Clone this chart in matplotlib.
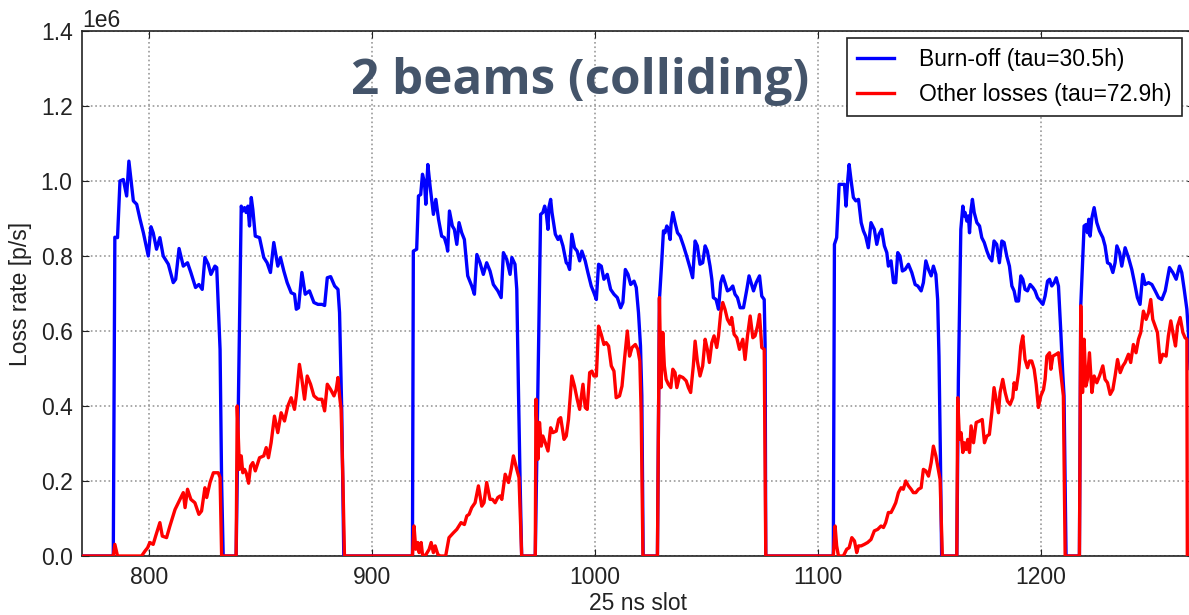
import matplotlib
matplotlib.use("Agg")
import matplotlib.pyplot as plt
import numpy as np

plt.rcParams["font.family"] = ["Liberation Sans", "DejaVu Sans"]

# loss rates, (25 ns slot, rate in 1e6 p/s), one list per bunch train
BURNOFF_T1 = [(770.0, 0), (784.0, 0), (784.7, 0.85), (785.9, 0.849), (787.0, 1.0), (788.5, 1.004),
              (790.0, 0.96), (791.0, 1.053), (793.0, 0.947), (794.5, 0.938), (796.0, 0.898),
              (797.5, 0.862), (799.7, 0.8), (800.9, 0.878), (801.9, 0.862), (803.4, 0.818),
              (804.9, 0.849), (806.4, 0.8), (808.7, 0.778), (810.9, 0.729), (812.0, 0.738),
              (813.5, 0.82), (815.4, 0.773), (817.3, 0.782), (818.8, 0.756), (820.9, 0.716),
              (822.4, 0.724), (823.9, 0.711), (825.1, 0.796), (826.6, 0.778), (827.8, 0.751),
              (829.6, 0.773), (830.4, 0.769), (831.9, 0.551), (832.6, 0.196), (833.3, 0)]
BURNOFF_T2 = [(839.1, 0), (841.4, 0.933), (842.1, 0.92), (842.9, 0.929), (843.6, 0.916), (844.4, 0.933),
              (845.1, 0.88), (845.9, 0.956), (846.6, 0.924), (847.7, 0.853), (849.6, 0.849),
              (851.5, 0.796), (853.0, 0.782), (854.5, 0.756), (856.0, 0.836), (857.8, 0.773),
              (859.0, 0.796), (860.5, 0.76), (862.0, 0.729), (863.8, 0.702), (865.3, 0.698),
              (866.1, 0.658), (867.1, 0.662), (868.6, 0.756), (870.1, 0.698), (872.0, 0.707),
              (874.0, 0.676), (875.8, 0.671), (877.6, 0.671), (878.8, 0.668), (880.0, 0.742),
              (881.5, 0.745), (883.3, 0.72), (884.8, 0.711), (885.5, 0.649), (886.5, 0.382), (887.4, 0)]
BURNOFF_T3 = [(918.2, 0), (918.6, 0.813), (920.1, 0.818), (920.9, 0.96), (921.9, 0.964), (922.7, 1.018),
              (923.6, 0.996), (924.2, 0.938), (925.1, 1.044), (926.1, 0.987), (927.6, 0.911),
              (928.7, 0.951), (929.9, 0.898), (931.3, 0.853), (932.5, 0.849), (933.6, 0.827),
              (934.0, 0.813), (934.8, 0.92), (936.1, 0.88), (937.0, 0.871), (938.1, 0.831),
              (939.1, 0.889), (940.3, 0.862), (941.5, 0.844), (943.0, 0.747), (944.8, 0.72),
              (946.0, 0.698), (947.1, 0.804), (948.5, 0.782), (950.0, 0.751), (951.5, 0.782),
              (953.0, 0.76), (954.5, 0.724), (956.5, 0.707), (958.0, 0.689), (959.0, 0.809),
              (960.5, 0.791), (962.0, 0.751), (962.8, 0.796), (964.2, 0.778), (965.0, 0.711),
              (965.7, 0.462), (966.5, 0.196), (967.2, 0)]
BURNOFF_T4 = [(973.3, 0), (975.7, 0.911), (976.7, 0.916), (977.5, 0.933), (978.2, 0.916), (979.0, 0.871),
              (979.4, 0.929), (980.2, 0.951), (980.8, 0.916), (982.3, 0.858), (983.5, 0.844),
              (984.4, 0.853), (985.7, 0.827), (987.2, 0.782), (987.9, 0.778), (988.7, 0.764),
              (989.7, 0.858), (990.9, 0.822), (992.1, 0.813), (993.2, 0.787), (994.2, 0.813),
              (995.7, 0.787), (996.9, 0.756), (998.4, 0.72), (999.6, 0.702), (1000.7, 0.684),
              (1001.7, 0.778), (1002.9, 0.773), (1004.1, 0.738), (1005.6, 0.751), (1007.1, 0.711),
              (1008.6, 0.698), (1010.1, 0.689), (1011.6, 0.662), (1012.6, 0.676), (1013.7, 0.764),
              (1014.9, 0.751), (1016.1, 0.724), (1017.6, 0.733), (1018.6, 0.716), (1019.6, 0.649),
              (1020.5, 0.56), (1021.1, 0.427), (1021.7, 0)]
BURNOFF_T5 = [(1028.1, 0), (1029.0, 0.684), (1030.0, 0.782), (1030.8, 0.867), (1031.5, 0.862),
              (1032.3, 0.88), (1033.0, 0.871), (1033.8, 0.844), (1034.2, 0.884), (1035.0, 0.916),
              (1036.0, 0.889), (1037.1, 0.862), (1038.3, 0.853), (1039.8, 0.827), (1041.2, 0.8),
              (1042.7, 0.769), (1043.9, 0.742), (1045.0, 0.84), (1046.0, 0.827), (1047.2, 0.778),
              (1048.4, 0.782), (1049.5, 0.827), (1050.5, 0.813), (1051.7, 0.773), (1052.5, 0.738),
              (1053.2, 0.689), (1054.4, 0.684), (1055.5, 0.658), (1056.5, 0.729), (1057.4, 0.747),
              (1058.4, 0.729), (1059.5, 0.707), (1060.7, 0.711), (1061.9, 0.72), (1062.9, 0.698),
              (1064.0, 0.689), (1065.2, 0.662), (1066.7, 0.662), (1068.2, 0.711), (1069.2, 0.747),
              (1070.1, 0.729), (1071.2, 0.707), (1072.4, 0.729), (1073.9, 0.747), (1074.9, 0.693),
              (1076.0, 0.684), (1076.4, 0.564), (1076.7, 0)]
BURNOFF_T6 = [(1107.0, 0), (1107.5, 0.831), (1108.5, 0.849), (1109.6, 0.991), (1110.8, 0.991),
              (1112.0, 0.991), (1112.7, 0.933), (1113.5, 1.004), (1114.1, 1.044), (1115.0, 1.0),
              (1116.0, 0.956), (1117.1, 0.947), (1118.3, 0.951), (1119.5, 0.889), (1120.5, 0.867),
              (1121.5, 0.853), (1122.7, 0.822), (1123.9, 0.889), (1125.4, 0.871), (1126.5, 0.831),
              (1127.5, 0.858), (1128.7, 0.871), (1129.9, 0.827), (1131.0, 0.809), (1131.7, 0.773),
              (1132.9, 0.787), (1134.0, 0.729), (1135.0, 0.729), (1135.9, 0.809), (1136.9, 0.8),
              (1138.0, 0.76), (1139.2, 0.764), (1140.7, 0.778), (1142.2, 0.756), (1143.7, 0.724),
              (1144.9, 0.72), (1146.4, 0.707), (1147.4, 0.729), (1148.5, 0.787), (1149.7, 0.764),
              (1150.9, 0.747), (1151.9, 0.773), (1153.0, 0.751), (1153.8, 0.684), (1154.4, 0.533),
              (1155.0, 0.284), (1155.6, 0)]
BURNOFF_T7 = [(1162.4, 0), (1163.1, 0.471), (1164.2, 0.871), (1165.1, 0.933), (1165.7, 0.907),
              (1166.1, 0.916), (1166.9, 0.893), (1167.6, 0.907), (1168.1, 0.862), (1168.7, 0.92),
              (1169.4, 0.951), (1170.2, 0.916), (1171.4, 0.889), (1172.6, 0.88), (1173.6, 0.849),
              (1174.7, 0.836), (1175.9, 0.813), (1177.0, 0.796), (1178.1, 0.787), (1179.1, 0.84),
              (1180.3, 0.831), (1181.5, 0.782), (1182.6, 0.84), (1183.6, 0.836), (1184.8, 0.8),
              (1186.0, 0.773), (1187.1, 0.72), (1188.1, 0.707), (1189.0, 0.68), (1190.1, 0.68),
              (1191.1, 0.747), (1192.0, 0.738), (1193.0, 0.711), (1194.1, 0.707), (1195.3, 0.724),
              (1196.5, 0.716), (1197.5, 0.707), (1198.6, 0.689), (1199.8, 0.68), (1201.0, 0.671),
              (1202.0, 0.693), (1203.1, 0.733), (1204.0, 0.738), (1205.0, 0.72), (1206.1, 0.729),
              (1207.0, 0.742), (1208.0, 0.72), (1209.0, 0.604), (1209.9, 0.489), (1210.5, 0.427),
              (1211.4, 0)]
BURNOFF_T8 = [(1217.4, 0), (1218.0, 0.667), (1219.5, 0.88), (1220.4, 0.884), (1221.0, 0.862),
              (1221.6, 0.898), (1222.2, 0.853), (1223.0, 0.902), (1224.0, 0.929), (1225.2, 0.889),
              (1226.4, 0.867), (1227.9, 0.849), (1228.9, 0.827), (1230.0, 0.782), (1231.2, 0.778),
              (1232.4, 0.756), (1233.4, 0.782), (1234.2, 0.827), (1235.4, 0.809), (1236.4, 0.773),
              (1237.9, 0.822), (1239.4, 0.796), (1240.9, 0.764), (1242.4, 0.72), (1243.4, 0.689),
              (1244.6, 0.671), (1245.8, 0.751), (1246.9, 0.724), (1248.4, 0.729), (1249.9, 0.724),
              (1251.4, 0.707), (1252.9, 0.689), (1254.4, 0.684), (1255.9, 0.707), (1257.8, 0.769),
              (1259.3, 0.756), (1260.8, 0.738), (1262.3, 0.773), (1263.3, 0.756), (1264.4, 0.711),
              (1265.6, 0.658), (1266.3, 0.596), (1267.0, 0.5)]

OTHER_T1 = [(770.0, 0), (784.0, 0), (784.7, 0.031), (785.9, 0), (796.7, 0), (798.2, 0.013),
            (799.4, 0.022), (800.4, 0.036), (801.9, 0.031), (803.0, 0.053), (804.9, 0.089),
            (806.0, 0.053), (807.9, 0.049), (809.4, 0.08), (811.7, 0.124), (813.9, 0.151),
            (815.4, 0.169), (816.2, 0.129), (817.3, 0.178), (818.8, 0.151), (820.6, 0.142),
            (822.4, 0.111), (823.6, 0.12), (825.1, 0.182), (825.9, 0.156), (827.4, 0.196),
            (828.9, 0.222), (831.1, 0.222), (831.9, 0.209), (832.6, 0)]
OTHER_T2 = [(839.1, 0), (839.6, 0.4), (840.6, 0.231), (841.4, 0.267), (842.1, 0.222), (842.9, 0.231),
            (843.6, 0.222), (844.7, 0.194), (845.6, 0.24), (846.6, 0.249), (847.7, 0.227),
            (849.6, 0.262), (851.5, 0.267), (852.6, 0.289), (853.6, 0.262), (854.8, 0.302),
            (856.3, 0.373), (857.8, 0.329), (859.3, 0.382), (860.8, 0.36), (862.3, 0.4),
            (863.8, 0.422), (865.3, 0.391), (866.1, 0.427), (867.5, 0.511), (868.6, 0.471),
            (869.8, 0.418), (871.0, 0.48), (872.5, 0.458), (874.0, 0.427), (875.8, 0.418),
            (877.6, 0.418), (878.8, 0.387), (880.0, 0.458), (881.5, 0.444), (883.0, 0.427),
            (884.0, 0.444), (884.8, 0.476), (885.5, 0.427), (886.2, 0.391), (887.0, 0.204), (887.7, 0)]
OTHER_T3 = [(918.2, 0), (918.9, 0.08), (919.7, 0.018), (920.6, 0.036), (921.2, 0.009), (922.1, 0.036),
            (922.7, 0.004), (923.9, 0), (925.7, 0.018), (926.6, 0.036), (927.6, 0.009), (928.4, 0.027),
            (929.6, 0.004), (930.6, 0), (933.1, 0), (934.6, 0.049), (936.6, 0.062), (938.1, 0.071),
            (940.0, 0.089), (941.5, 0.084), (942.6, 0.107), (943.6, 0.111), (944.8, 0.129),
            (946.3, 0.142), (947.8, 0.187), (949.3, 0.133), (950.3, 0.142), (951.5, 0.196),
            (953.0, 0.151), (954.1, 0.151), (955.3, 0.142), (956.5, 0.156), (957.5, 0.16),
            (958.3, 0.151), (959.8, 0.218), (961.3, 0.196), (962.5, 0.231), (963.5, 0.267),
            (965.0, 0.231), (966.0, 0.209), (967.2, 0)]
OTHER_T4 = [(973.3, 0), (973.6, 0.418), (974.5, 0.258), (975.2, 0.356), (976.0, 0.293), (976.7, 0.32),
            (977.8, 0.302), (979.0, 0.28), (980.2, 0.342), (981.2, 0.329), (982.7, 0.333),
            (983.8, 0.364), (984.7, 0.369), (986.2, 0.311), (987.2, 0.32), (988.2, 0.364),
            (989.7, 0.48), (990.9, 0.453), (992.1, 0.418), (993.2, 0.391), (994.7, 0.458),
            (995.7, 0.396), (996.6, 0.391), (997.7, 0.489), (998.7, 0.493), (999.6, 0.48),
            (1000.7, 0.48), (1001.7, 0.613), (1002.9, 0.591), (1004.1, 0.564), (1005.1, 0.569),
            (1006.2, 0.56), (1007.4, 0.507), (1008.6, 0.493), (1009.6, 0.422), (1011.1, 0.427),
            (1012.2, 0.453), (1013.4, 0.529), (1014.6, 0.6), (1015.6, 0.533), (1016.7, 0.556),
            (1018.2, 0.564), (1019.3, 0.551), (1020.2, 0.52), (1020.8, 0.382), (1021.6, 0)]
OTHER_T5 = [(1028.1, 0), (1029.0, 0.689), (1029.7, 0.449), (1030.5, 0.596), (1031.2, 0.507),
            (1032.0, 0.471), (1033.0, 0.458), (1034.1, 0.449), (1035.0, 0.498), (1036.0, 0.489),
            (1036.8, 0.449), (1038.0, 0.48), (1039.5, 0.476), (1041.0, 0.467), (1042.0, 0.449),
            (1043.0, 0.436), (1044.2, 0.507), (1045.0, 0.573), (1046.0, 0.52), (1047.2, 0.48),
            (1048.4, 0.507), (1049.5, 0.578), (1050.5, 0.551), (1051.4, 0.516), (1052.5, 0.569),
            (1053.5, 0.587), (1054.7, 0.556), (1055.5, 0.587), (1056.5, 0.649), (1057.4, 0.676),
            (1058.4, 0.658), (1059.5, 0.631), (1060.7, 0.618), (1061.4, 0.636), (1062.5, 0.591),
            (1063.7, 0.582), (1064.9, 0.551), (1066.4, 0.578), (1067.4, 0.524), (1068.5, 0.587),
            (1069.7, 0.64), (1070.9, 0.582), (1071.9, 0.587), (1073.0, 0.613), (1073.9, 0.644),
            (1074.9, 0.556), (1076.0, 0.551), (1076.7, 0)]
OTHER_T6 = [(1107.0, 0), (1107.8, 0.08), (1108.5, 0.027), (1109.3, 0), (1111.5, 0), (1113.0, 0.018),
            (1114.1, 0.022), (1115.3, 0.049), (1116.5, 0.04), (1117.5, 0.009), (1118.3, 0.027),
            (1119.5, 0.027), (1120.9, 0.031), (1122.4, 0.036), (1123.9, 0.044), (1125.4, 0.067),
            (1126.9, 0.071), (1128.4, 0.08), (1129.5, 0.076), (1130.5, 0.089), (1131.7, 0.116),
            (1132.9, 0.116), (1134.0, 0.129), (1135.0, 0.142), (1136.2, 0.169), (1137.4, 0.182),
            (1138.4, 0.178), (1139.5, 0.2), (1140.7, 0.187), (1141.9, 0.178), (1142.9, 0.169),
            (1144.0, 0.169), (1145.2, 0.178), (1146.4, 0.182), (1147.4, 0.231), (1148.5, 0.227),
            (1149.7, 0.213), (1150.9, 0.249), (1151.9, 0.293), (1153.0, 0.267), (1154.1, 0.231),
            (1154.9, 0.204), (1155.9, 0)]
OTHER_T7 = [(1162.4, 0), (1162.8, 0.422), (1163.6, 0.311), (1164.3, 0.329), (1165.1, 0.276),
            (1165.8, 0.302), (1166.6, 0.284), (1167.3, 0.311), (1168.1, 0.276), (1168.8, 0.347),
            (1169.9, 0.302), (1171.1, 0.356), (1172.6, 0.36), (1173.8, 0.364), (1174.8, 0.302),
            (1175.9, 0.32), (1177.0, 0.324), (1178.1, 0.382), (1179.1, 0.449), (1180.3, 0.409),
            (1181.1, 0.382), (1181.8, 0.436), (1183.0, 0.471), (1184.1, 0.436), (1185.1, 0.413),
            (1186.3, 0.404), (1187.5, 0.422), (1188.1, 0.462), (1189.0, 0.444), (1190.1, 0.489),
            (1191.1, 0.56), (1192.0, 0.587), (1193.0, 0.524), (1194.1, 0.502), (1195.0, 0.52),
            (1196.0, 0.52), (1197.1, 0.498), (1198.0, 0.458), (1199.0, 0.396), (1200.1, 0.427),
            (1201.3, 0.444), (1202.0, 0.471), (1202.8, 0.533), (1204.0, 0.542), (1204.6, 0.498),
            (1205.5, 0.533), (1207.0, 0.538), (1208.0, 0.542), (1209.0, 0.489), (1210.2, 0.427),
            (1211.0, 0)]
OTHER_T8 = [(1217.4, 0), (1218.0, 0.667), (1218.8, 0.436), (1219.5, 0.578), (1220.3, 0.453),
            (1221.0, 0.471), (1221.9, 0.542), (1223.0, 0.436), (1224.0, 0.48), (1225.2, 0.462),
            (1226.4, 0.48), (1227.9, 0.507), (1228.9, 0.471), (1230.0, 0.462), (1231.2, 0.431),
            (1232.4, 0.444), (1233.4, 0.48), (1234.5, 0.524), (1235.7, 0.489), (1236.9, 0.507),
            (1237.9, 0.516), (1239.4, 0.538), (1240.4, 0.516), (1241.6, 0.564), (1242.8, 0.542),
            (1243.9, 0.578), (1244.9, 0.596), (1246.1, 0.653), (1247.3, 0.631), (1248.4, 0.649),
            (1249.4, 0.684), (1250.3, 0.631), (1251.4, 0.613), (1252.4, 0.596), (1253.6, 0.516),
            (1254.8, 0.538), (1256.3, 0.533), (1257.3, 0.587), (1258.4, 0.627), (1259.6, 0.587),
            (1260.5, 0.56), (1261.4, 0.613), (1262.6, 0.636), (1263.8, 0.596), (1264.8, 0.582),
            (1265.6, 0.578), (1265.8, 0), (1270.0, 0)]

BURNOFF_LABEL = "Burn-off (tau=30.5h)"
OTHER_LABEL = "Other losses (tau=72.9h)"
TITLE = "2 beams (colliding)"
X_TICKS = [800, 900, 1000, 1100, 1200]
Y_TICKS = [0.0, 0.2, 0.4, 0.6, 0.8, 1.0, 1.2, 1.4]

FS = 16.5
INK = "#222222"


def to_xy(*trains):
    pts = np.array([p for t in trains for p in t], dtype=float)
    return pts[:, 0], pts[:, 1] * 1e6


bx, by = to_xy(BURNOFF_T1, BURNOFF_T2, BURNOFF_T3, BURNOFF_T4,
               BURNOFF_T5, BURNOFF_T6, BURNOFF_T7, BURNOFF_T8)
rx, ry = to_xy(OTHER_T1, OTHER_T2, OTHER_T3, OTHER_T4,
               OTHER_T5, OTHER_T6, OTHER_T7, OTHER_T8)

fig = plt.figure(figsize=(11.89, 6.15), dpi=100)
ax = fig.add_axes([82.3 / 1189, 59 / 615, (1194 - 82.3) / 1189, 525 / 615])

ax.plot(bx, by, color="#0000ff", lw=2.4, label=BURNOFF_LABEL, zorder=3)
ax.plot(rx, ry, color="#ff0000", lw=2.4, label=OTHER_LABEL, zorder=4)

ax.set_xlim(770.1, 1268.8)
ax.set_ylim(0, 1.4e6)
ax.set_xticks(X_TICKS)
ax.set_yticks([v * 1e6 for v in Y_TICKS])
ax.tick_params(direction="in", top=True, right=True, labelsize=FS, colors=INK,
               length=5, pad=7)
ax.yaxis.get_offset_text().set_fontsize(FS)
ax.yaxis.get_offset_text().set_color(INK)
ax.grid(True, color="#999999", linestyle=":", linewidth=1.2)
for spine in ax.spines.values():
    spine.set_edgecolor(INK)
    spine.set_linewidth(1.2)

ax.set_xlabel("25 ns slot", fontsize=FS, color=INK, labelpad=2)
ax.set_ylabel("Loss rate [p/s]", fontsize=FS, color=INK, labelpad=6)

fig.text(580 / 1189, 1 - 82 / 615, TITLE, ha="center", va="center", fontsize=35.5,
         fontweight="bold", color="#44546a", family=["Open Sans", "DejaVu Sans"])

leg = ax.legend(loc="upper right", bbox_to_anchor=(1182 / 1189, 1 - 38 / 615),
                bbox_transform=fig.transFigure, fontsize=FS, fancybox=False,
                framealpha=1, edgecolor=INK, handlelength=1.6,
                handletextpad=1.1, borderaxespad=0, borderpad=0.45)
leg.get_frame().set_linewidth(1.2)

fig.savefig("out.png", dpi=100)
